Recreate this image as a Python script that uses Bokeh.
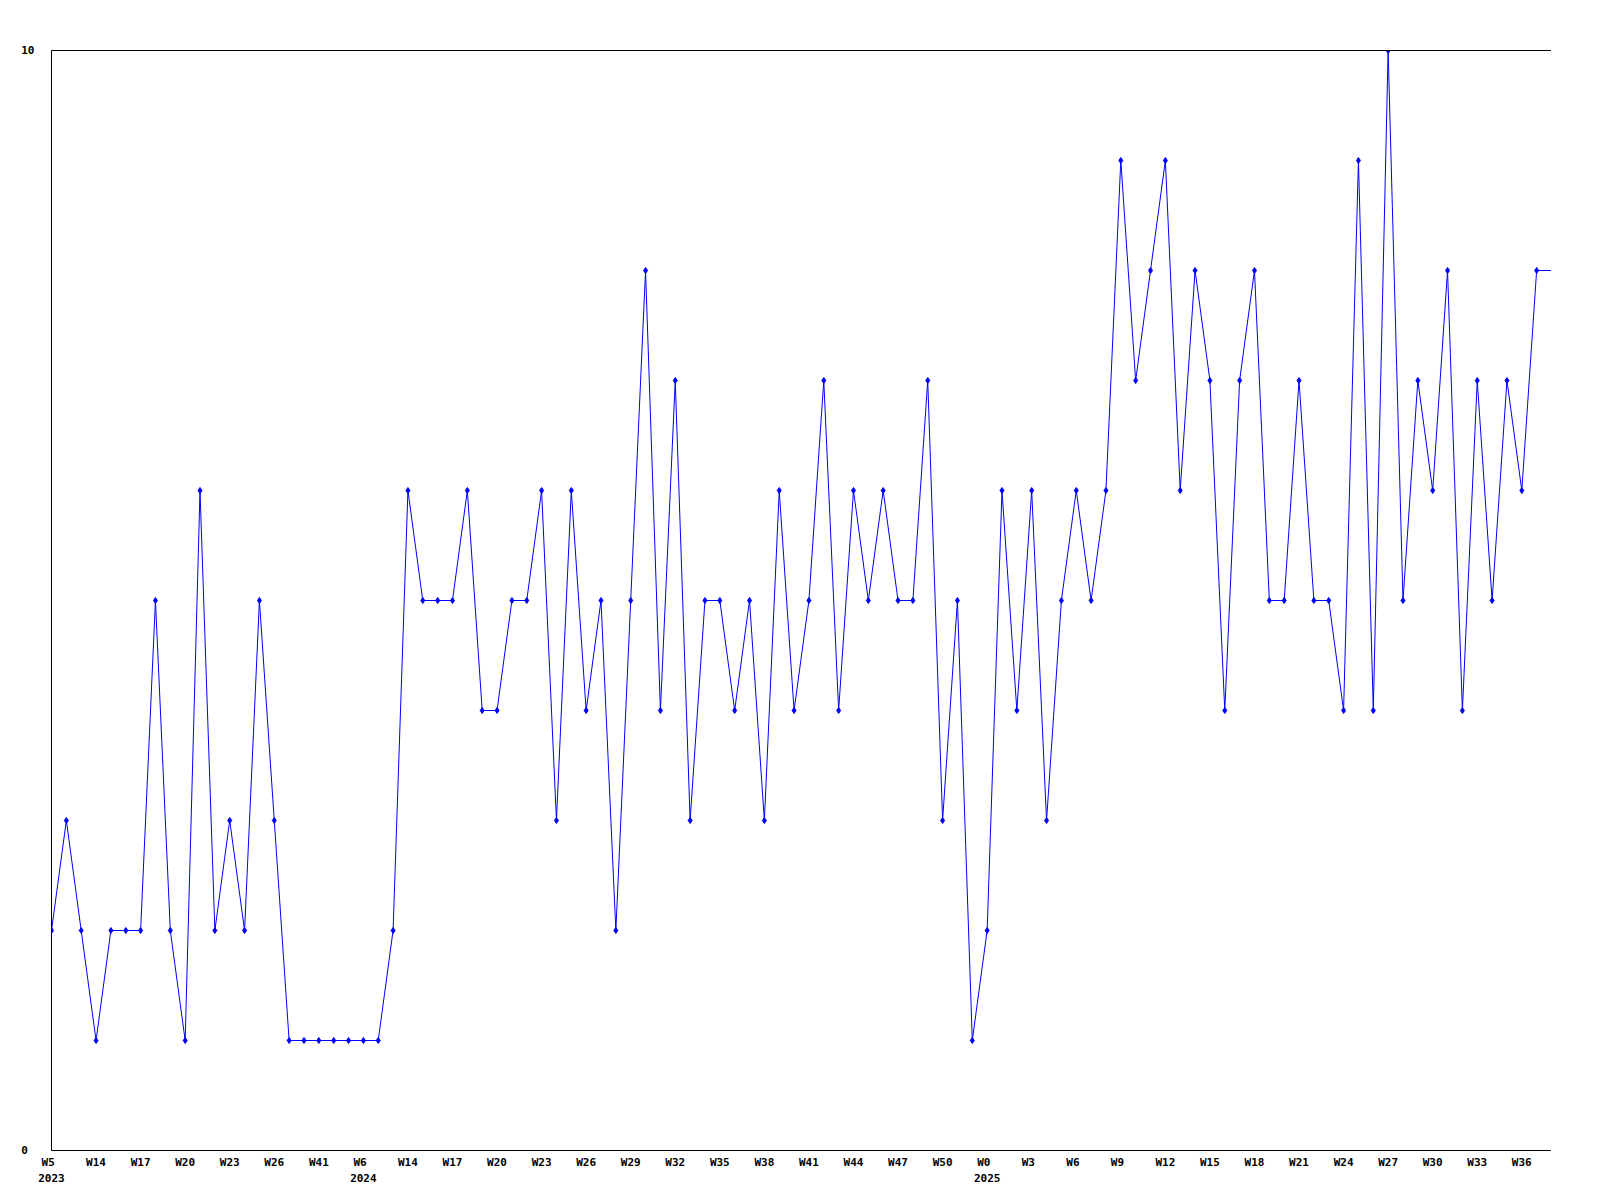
from bokeh.plotting import figure
from bokeh.models import FixedTicker, LinearAxis, Range1d
from bokeh.embed import file_html
from bokeh.resources import INLINE

# weekly values
values = [2, 3, 2, 1, 2, 2, 2, 5, 2, 1,
          6, 2, 3, 2, 5, 3, 1, 1, 1, 1,
          1, 1, 1, 2, 6, 5, 5, 5, 6, 4,
          4, 5, 5, 6, 3, 6, 4, 5, 2, 5,
          8, 4, 7, 3, 5, 5, 4, 5, 3, 6,
          4, 5, 7, 4, 6, 5, 6, 5, 5, 7,
          3, 5, 1, 2, 6, 4, 6, 3, 5, 6,
          5, 6, 9, 7, 8, 9, 6, 8, 7, 4,
          7, 8, 5, 5, 7, 5, 5, 4, 9, 4,
          10, 5, 7, 6, 8, 4, 7, 5, 7, 6,
          8, 8]

tick_labels = ["W5", "W14", "W17", "W20", "W23", "W26", "W41",
               "W6", "W14", "W17", "W20", "W23", "W26", "W29", "W32", "W35", "W38",
               "W41", "W44", "W47", "W50",
               "W0", "W3", "W6", "W9", "W12", "W15", "W18", "W21", "W24", "W27",
               "W30", "W33", "W36"]
year_labels = {0: "2023", 7: "2024", 21: "2025"}
tick_step = 3
y_ticks = [0, 10]

FONT = "DejaVu Sans Mono"

n = len(values)
xs = list(range(n))
tick_pos = [k * tick_step for k in range(len(tick_labels))]
overrides = {}
for k, (pos, lab) in enumerate(zip(tick_pos, tick_labels)):
    txt = lab if len(lab) >= 3 else lab + "\u00a0"
    if k in year_labels:
        txt = txt + "\n" + year_labels[k]
    overrides[pos] = txt

p = figure(frame_width=1500, frame_height=1100, output_backend="svg",
           toolbar_location=None, x_range=Range1d(0, n - 1), y_range=Range1d(0, 10),
           min_border_left=51, min_border_top=50, min_border_right=0,
           min_border_bottom=45, x_axis_location=None, y_axis_location=None)
p.outline_line_color = None
p.xgrid.visible = False
p.ygrid.visible = False
p.background_fill_color = "white"
p.border_fill_color = "white"

p.line(xs, values, line_color="#0000ff", line_width=1)
p.scatter(xs[:-1], values[:-1], marker="diamond", size=6,
          fill_color="#0000ff", line_color="#0000ff")

xaxis = LinearAxis(ticker=FixedTicker(ticks=tick_pos), major_label_overrides=overrides)
xaxis.axis_line_color = "black"
xaxis.major_tick_line_color = None
xaxis.minor_tick_line_color = None
xaxis.major_tick_out = 0
xaxis.major_tick_in = 0
xaxis.major_label_standoff = 5
xaxis.major_label_text_font = FONT
xaxis.major_label_text_font_style = "bold"
xaxis.major_label_text_font_size = "11px"
xaxis.major_label_text_color = "black"
xaxis.major_label_text_line_height = 1.25
p.add_layout(xaxis, "below")

yaxis = LinearAxis(ticker=FixedTicker(ticks=y_ticks),
                   major_label_overrides={0: "0\u00a0", 10: "10"})
yaxis.axis_line_color = "black"
yaxis.major_tick_line_color = None
yaxis.minor_tick_line_color = None
yaxis.major_tick_out = 0
yaxis.major_tick_in = 0
yaxis.major_label_standoff = 17
yaxis.major_label_text_font = FONT
yaxis.major_label_text_font_style = "bold"
yaxis.major_label_text_font_size = "11px"
yaxis.major_label_text_color = "black"
p.add_layout(yaxis, "left")

top = LinearAxis(ticker=FixedTicker(ticks=[]))
top.axis_line_color = "black"
top.major_tick_line_color = None
top.minor_tick_line_color = None
top.major_label_text_font_size = "0px"
p.add_layout(top, "above")

open("out.html", "w").write(file_html(p, INLINE))
